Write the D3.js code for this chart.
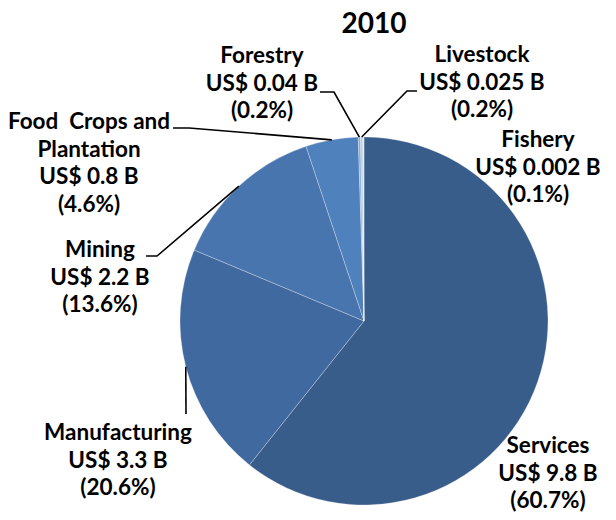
<!DOCTYPE html>
<html>
<head>
<meta charset="utf-8">
<script src="https://cdn.jsdelivr.net/npm/d3@7"></script>
<style>
  html, body { margin: 0; padding: 0; background: #fff; }
  svg { display: block; }
  text { font-family: Lato, "Open Sans", sans-serif; font-weight: 700; fill: #000; }
</style>
</head>
<body>
<svg id="chart" width="616" height="520"></svg>
<script>
// ---- data ----
const title = "2010";
const sectors = ["Services", "Manufacturing", "Mining", "Food  Crops and\nPlantation", "Forestry", "Livestock", "Fishery"];
const valuesUSD = ["9.8", "3.3", "2.2", "0.8", "0.04", "0.025", "0.002"];
const percents = [60.7, 20.6, 13.6, 4.6, 0.2, 0.2, 0.1];
const colors = ["#385D8A", "#4069A0", "#4875AD", "#4F81BD", "#8FADD5", "#B9CCE6", "#DCE6F2"];

// ---- layout (label anchor: centre x, first baseline y, leader start points) ----
const layout = {
  "Services":      { x: 548, y: 453, leader: null },
  "Manufacturing": { x: 118, y: 440, leader: [[186, 414]] },
  "Mining":        { x: 100, y: 257, leader: [[146, 256], [157, 256]] },
  "Food  Crops and\nPlantation": { x: 89, y: 129, leader: [[173, 128], [189, 128]] },
  "Forestry":      { x: 262, y: 63, leader: [[320, 92], [334, 92]] },
  "Livestock":     { x: 482, y: 62, leader: [[417, 91], [407, 91]] },
  "Fishery":       { x: 538, y: 147, leader: null }
};

const W = 616, H = 520;
const cx = 364, cy = 321, R = 184;
const lineH = 27.5;

const svg = d3.select("#chart");

svg.append("text")
  .attr("x", 374).attr("y", 33)
  .attr("text-anchor", "middle")
  .style("font-size", "28px")
  .text(title);

const data = sectors.map((s, i) => ({ name: s, usd: valuesUSD[i], pct: percents[i], color: colors[i] }));

const pie = d3.pie().sort(null).value(d => d.pct);
const arcs = pie(data);
const arc = d3.arc().innerRadius(0).outerRadius(R);
const edgeArc = d3.arc().innerRadius(R).outerRadius(R);

const g = svg.append("g").attr("transform", `translate(${cx},${cy})`);
g.selectAll("path.slice")
  .data(arcs)
  .join("path")
  .attr("class", "slice")
  .attr("d", arc)
  .attr("fill", d => d.data.color)
  .attr("stroke", "rgba(255,255,255,0.35)")
  .attr("stroke-width", 0.8);

// leader lines
arcs.forEach(a => {
  const L = layout[a.data.name];
  if (!L || !L.leader) return;
  const e = edgeArc.centroid(a);
  const pts = L.leader.concat([[cx + e[0], cy + e[1]]]);
  svg.append("path")
    .attr("d", d3.line()(pts))
    .attr("fill", "none")
    .attr("stroke", "#000")
    .attr("stroke-width", 1.6);
});

// labels
arcs.forEach(a => {
  const L = layout[a.data.name];
  const lines = a.data.name.split("\n").concat([`US$ ${a.data.usd} B`, `(${a.data.pct.toFixed(1)}%)`]);
  const t = svg.append("text")
    .attr("text-anchor", "middle")
    .style("font-size", "22.5px")
    .style("white-space", "pre");
  lines.forEach((ln, i) => {
    t.append("tspan").attr("x", L.x).attr("y", L.y + i * lineH).text(ln);
  });
});
</script>
</body>
</html>
